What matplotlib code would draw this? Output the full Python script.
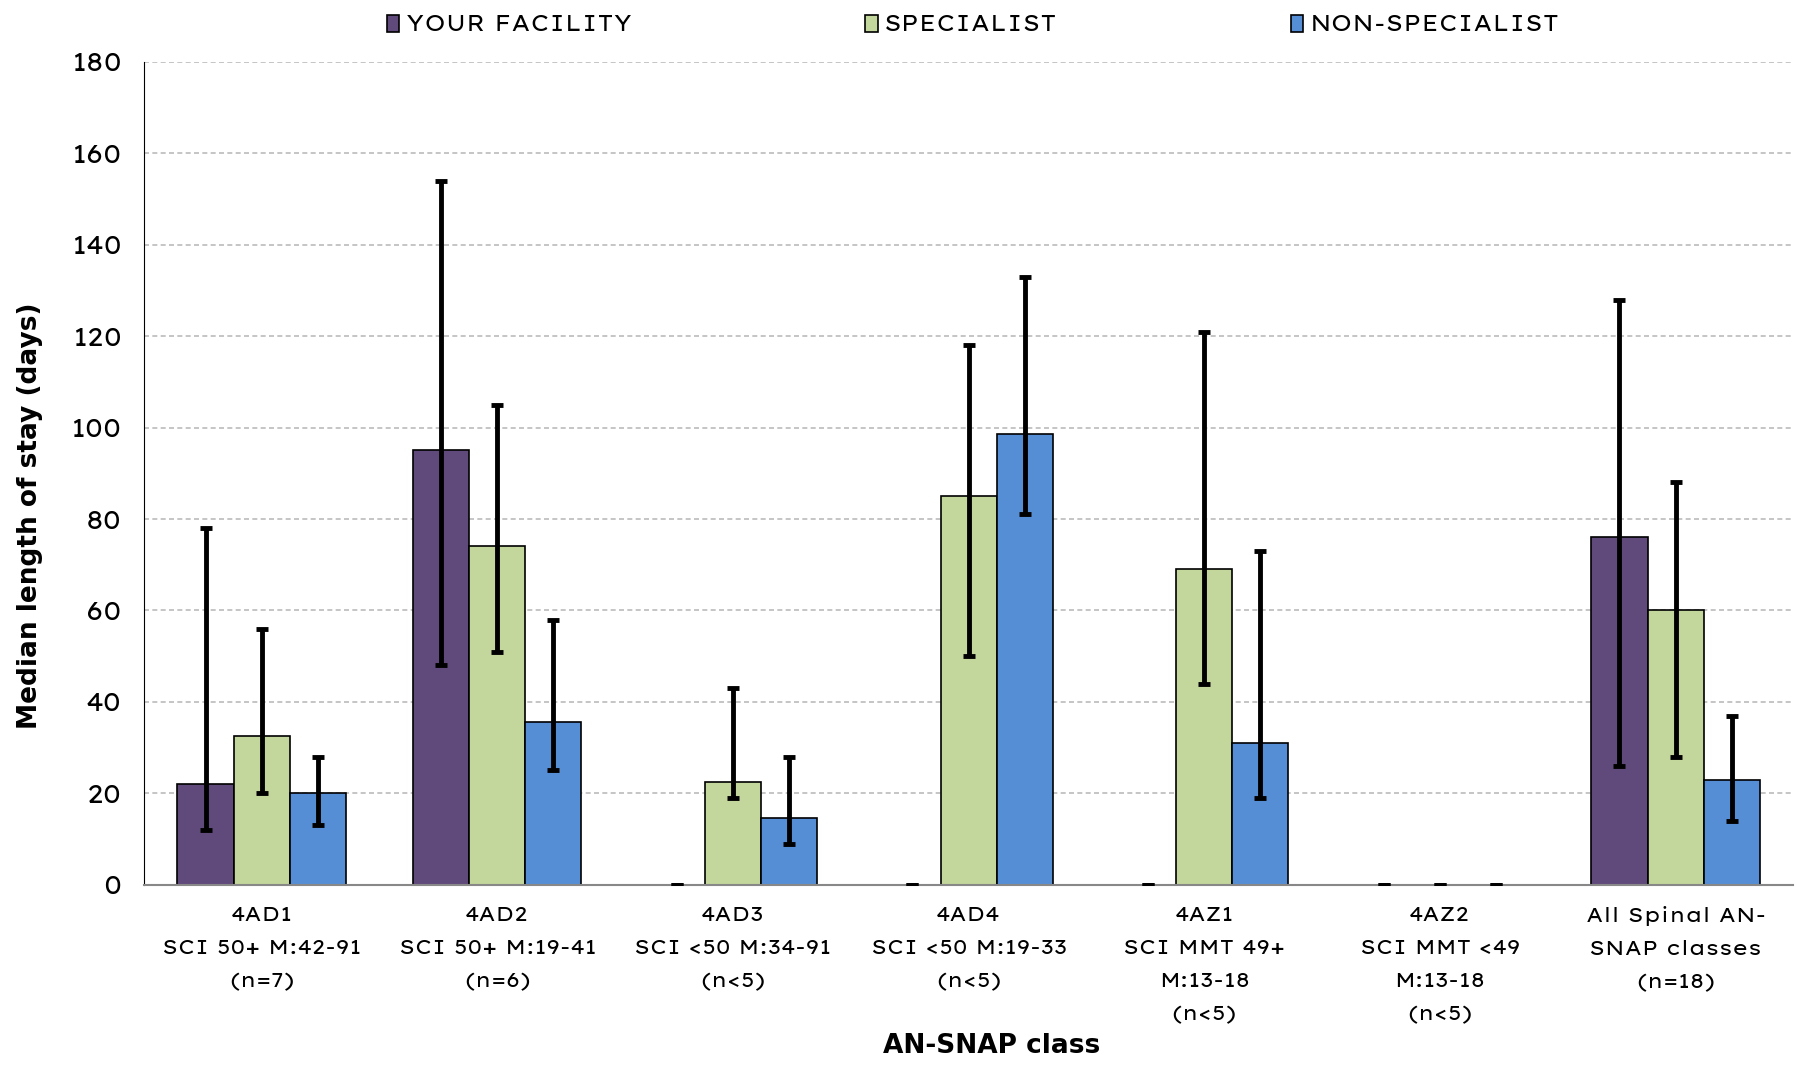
import numpy as np
import matplotlib
matplotlib.use("Agg")
import matplotlib.pyplot as plt

plt.rcParams['font.family'] = ['Lexend Giga', 'DejaVu Sans']

categories = ["4AD1\nSCI 50+ M:42-91\n(n=7)", "4AD2\nSCI 50+ M:19-41\n(n=6)",
              "4AD3\nSCI <50 M:34-91\n(n<5)", "4AD4\nSCI <50 M:19-33\n(n<5)",
              "4AZ1\nSCI MMT 49+\nM:13-18\n(n<5)", "4AZ2\nSCI MMT <49\nM:13-18\n(n<5)",
              "All Spinal AN-\nSNAP classes\n(n=18)"]
series = ["YOUR FACILITY", "SPECIALIST", "NON-SPECIALIST"]

facility = [22, 95, 0, 0, 0, 0, 76]
facility_lo = [12, 48, 0, 0, 0, 0, 26]
facility_hi = [78, 154, 0, 0, 0, 0, 128]

specialist = [32.5, 74, 22.5, 85, 69, 0, 60]
specialist_lo = [20, 51, 19, 50, 44, 0, 28]
specialist_hi = [56, 105, 43, 118, 121, 0, 88]

nonspec = [20, 35.5, 14.5, 98.5, 31, 0, 23]
nonspec_lo = [13, 25, 9, 81, 19, 0, 14]
nonspec_hi = [28, 58, 28, 133, 73, 0, 37]

colors = ["#604A7B", "#C3D69B", "#558ED5"]

fig = plt.figure(figsize=(17.97, 10.66), dpi=100)
ax = fig.add_axes([0.080, 0.170, 0.918, 0.772])

x = np.arange(len(categories))
w = 0.238
data = [(facility, facility_lo, facility_hi),
        (specialist, specialist_lo, specialist_hi),
        (nonspec, nonspec_lo, nonspec_hi)]
for i, (vals, lo, hi) in enumerate(data):
    pos = x + (i - 1) * w
    vals = np.array(vals, dtype=float)
    ax.bar(pos, vals, w, color=colors[i], edgecolor="black", linewidth=1.2,
           label=series[i], zorder=2)
    yerr = [vals - np.array(lo), np.array(hi) - vals]
    ax.errorbar(pos, vals, yerr=yerr, fmt="none", ecolor="black",
                elinewidth=3.5, capsize=4, capthick=3.5, zorder=3)

ax.set_xlim(-0.5, len(categories) - 0.5)
ax.set_ylim(0, 180)
ax.set_yticks(range(0, 181, 20))
ax.set_xticks(x)
ax.set_xticklabels(categories, fontsize=14.5, linespacing=1.95)
ax.tick_params(axis="y", labelsize=18, length=0, pad=16)
ax.tick_params(axis="x", length=0, pad=15)
ax.yaxis.grid(True, linestyle=(0, (3, 2)), color="#BBBBBB", linewidth=1.2, zorder=0)
ax.set_axisbelow(True)
for s in ["top", "right"]:
    ax.spines[s].set_visible(False)
ax.spines["left"].set_color("black")
ax.spines["bottom"].set_color("#888888")
ax.spines["bottom"].set_linewidth(1.5)

ax.set_ylabel("Median length of stay (days)", fontsize=19, fontweight="bold",
              family="DejaVu Sans")
ax.yaxis.set_label_coords(-0.061, 0.448)
ax.set_xlabel("AN-SNAP class", fontsize=19, fontweight="bold", family="DejaVu Sans")
ax.xaxis.set_label_coords(0.514, -0.18)

ax.legend(loc="lower center", bbox_to_anchor=(0.503, 1.0), ncol=3, frameon=False,
          fontsize=16, handlelength=0.55, handleheight=0.85, handletextpad=0.3,
          columnspacing=10.5, borderaxespad=0.75)

fig.savefig("out.png", dpi=100)
